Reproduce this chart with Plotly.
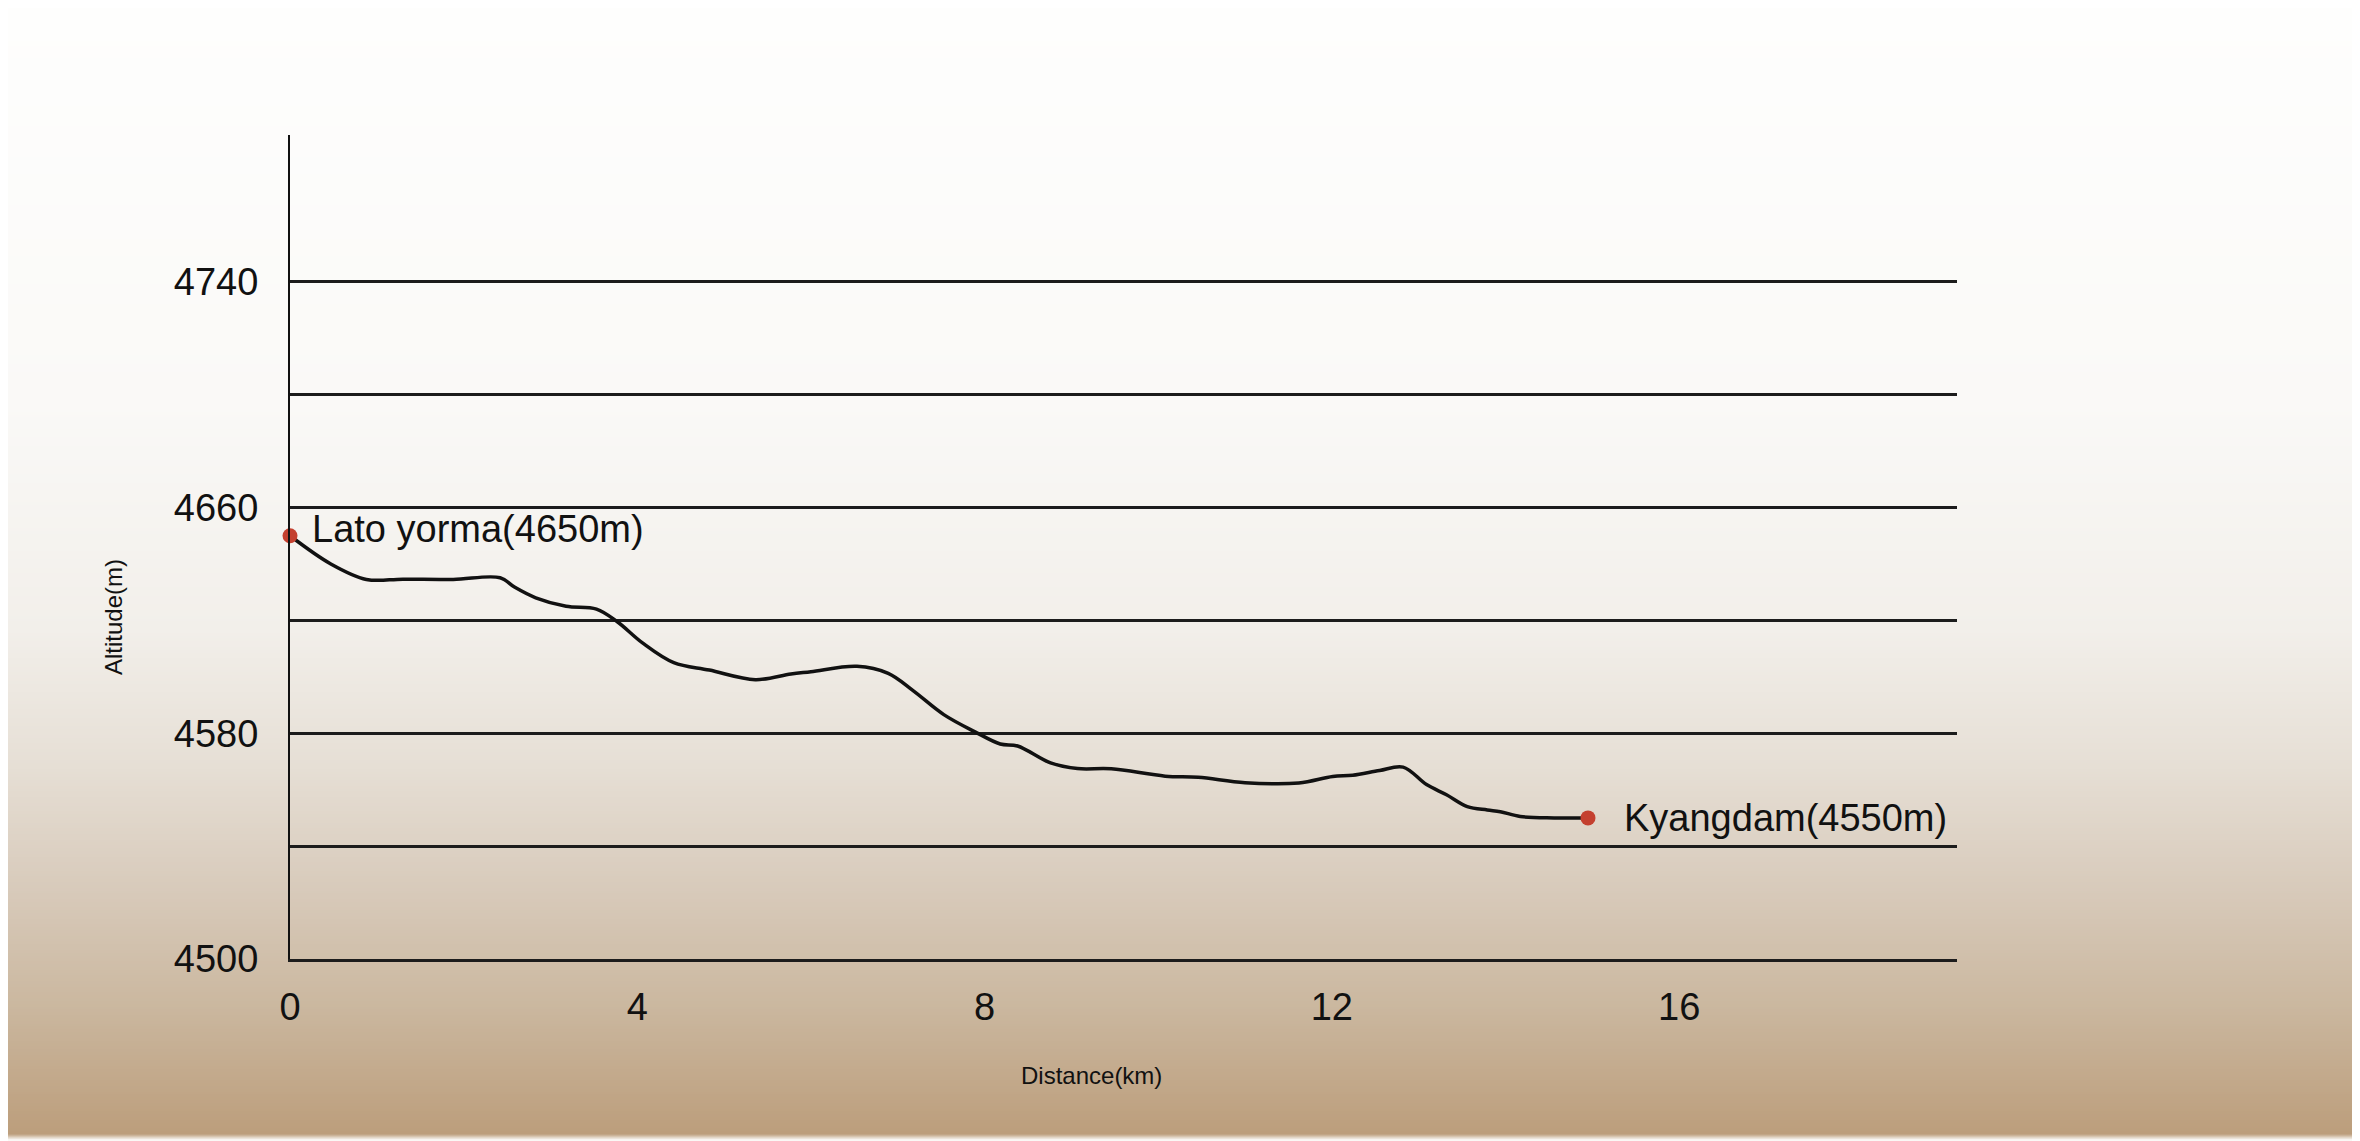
import base64
import struct
import zlib

import numpy as np
import plotly.graph_objects as go

# elevation profile
distance_km = [0, 0.47, 0.88, 1.3, 1.88, 2.42, 2.59, 2.83, 3.18, 3.53, 3.77, 4.06,
               4.42, 4.83, 5.36, 5.77, 6.0, 6.53, 6.89, 7.18, 7.53, 7.89, 8.18,
               8.38, 8.76, 9.07, 9.46, 10.08, 10.46, 11.0, 11.62, 12.01, 12.24,
               12.55, 12.82, 13.09, 13.32, 13.56, 13.79, 13.94, 14.17, 14.56, 14.95]
altitude_m = [4650, 4640, 4634.5, 4634.6, 4634.5, 4635.1, 4631.7, 4628, 4625, 4624,
              4619.5, 4612, 4605, 4602.4, 4599, 4601, 4601.8, 4603.7, 4601.2, 4595,
              4586.6, 4580.5, 4576.2, 4575.5, 4569.5, 4567.5, 4567.4, 4564.8, 4564.4,
              4562.5, 4562.4, 4564.7, 4565.1, 4566.8, 4568, 4561.8, 4558.2, 4554,
              4552.8, 4552.2, 4550.5, 4550, 4550]

place_km = [0, 14.95]
place_alt = [4650, 4550]
place_names = ["Lato yorma(4650m)", "Kyangdam(4550m)"]

y_ticks = [4500, 4540, 4580, 4620, 4660, 4700, 4740]
y_labels = ["4500", "", "4580", "", "4660", "", "4740"]
x_ticks = [0, 4, 8, 12, 16]

# the page body adds an 8px margin, so the figure is a bit smaller than the window
OFF = 8
W, H = 2360 - OFF, 1141 - OFF
L, R, T, B = 290 - OFF, 403, 135 - OFF, 182
pw, ph = W - L - R, H - T - B


def png_gradient(stops, n=400):
    pos = [s[0] for s in stops]
    rows = []
    for f in np.linspace(0, 1, n):
        rgb = [int(round(np.interp(f, pos, [s[1][i] for s in stops]))) for i in range(3)]
        rows.append(b"\x00" + bytes(rgb * 2))
    raw = b"".join(rows)

    def chunk(tag, data):
        return (struct.pack(">I", len(data)) + tag + data +
                struct.pack(">I", zlib.crc32(tag + data) & 0xffffffff))

    png = (b"\x89PNG\r\n\x1a\n" +
           chunk(b"IHDR", struct.pack(">IIBBBBB", 2, n, 8, 2, 0, 0, 0)) +
           chunk(b"IDAT", zlib.compress(raw)) + chunk(b"IEND", b""))
    return "data:image/png;base64," + base64.b64encode(png).decode()


bg = png_gradient([
    (0.0, (254, 254, 253)),
    (0.35, (250, 249, 247)),
    (0.55, (242, 239, 234)),
    (0.67, (230, 223, 213)),
    (0.77, (217, 204, 189)),
    (0.88, (203, 184, 160)),
    (0.995, (188, 158, 124)),
    (1.0, (250, 248, 245)),
])

font = "Liberation Sans, Arial, Helvetica, sans-serif"

fig = go.Figure()
fig.add_trace(go.Scatter(x=distance_km, y=altitude_m, mode="lines", cliponaxis=False,
                         line=dict(color="#111111", width=3.5, shape="spline", smoothing=1.0),
                         hoverinfo="skip"))
fig.add_trace(go.Scatter(x=place_km, y=place_alt, mode="markers", cliponaxis=False,
                         marker=dict(color="#c4402f", size=15), hoverinfo="skip"))

fig.add_annotation(x=place_km[0], y=place_alt[0], text=place_names[0], showarrow=False,
                   xanchor="left", yanchor="middle", xshift=20, yshift=7,
                   font=dict(size=38, color="#111111", family=font))
fig.add_annotation(x=place_km[1], y=place_alt[1], text=place_names[1], showarrow=False,
                   xanchor="left", yanchor="middle", xshift=34, yshift=0,
                   font=dict(size=38, color="#111111", family=font))

fig.add_annotation(text="Altitude(m)", xref="paper", yref="paper",
                   x=(113 - OFF - L) / pw, y=(H - B - (617 - OFF)) / ph, textangle=-90,
                   xanchor="center", yanchor="middle", showarrow=False,
                   font=dict(size=24, color="#111111", family=font))
fig.add_annotation(text="Distance(km)", xref="paper", yref="paper",
                   x=(1091 - OFF - L) / pw, y=(H - B - (1075 - OFF)) / ph,
                   xanchor="center", yanchor="middle", showarrow=False,
                   font=dict(size=24, color="#111111", family=font))

fig.add_layout_image(source=bg, xref="paper", yref="paper",
                     x=-L / pw, y=(H - B) / ph, sizex=W / pw, sizey=H / ph,
                     xanchor="left", yanchor="top", sizing="stretch", layer="below")

fig.update_layout(
    width=W, height=H,
    margin=dict(l=L, r=R, t=T, b=B),
    paper_bgcolor="#ffffff",
    plot_bgcolor="rgba(0,0,0,0)",
    showlegend=False,
    xaxis=dict(range=[0, 19.2], tickvals=x_ticks, showgrid=False, zeroline=False,
               showline=True, linecolor="#1c1c1c", linewidth=3, ticks="",
               ticklabelstandoff=12,
               tickfont=dict(size=38, color="#111111", family=font)),
    yaxis=dict(range=[4500, 4792], tickvals=y_ticks, ticktext=y_labels,
               showgrid=True, gridcolor="#1c1c1c", gridwidth=3, zeroline=False,
               showline=True, linecolor="#111111", linewidth=2, ticks="",
               ticklabelstandoff=22,
               tickfont=dict(size=38, color="#111111", family=font)),
)

fig.write_html("out.html")
